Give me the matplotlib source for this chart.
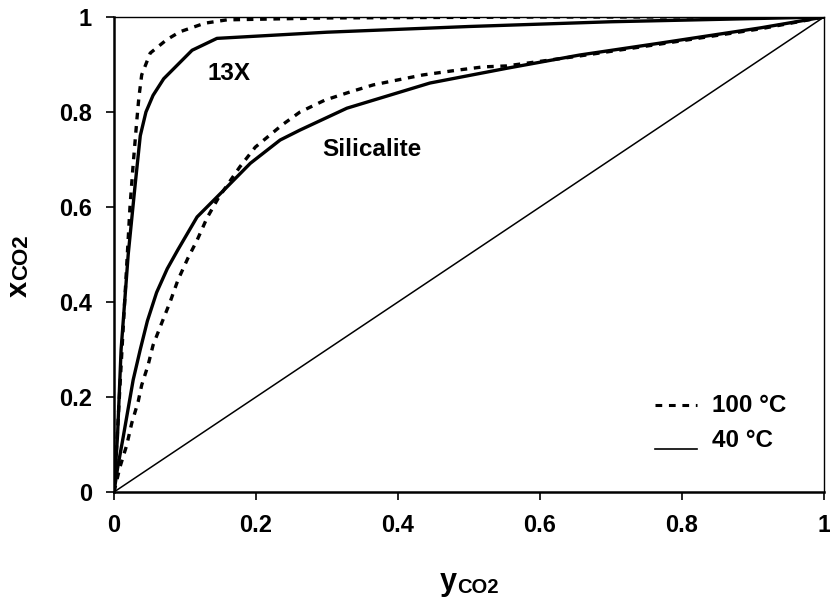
import matplotlib
matplotlib.use("Agg")
import matplotlib.pyplot as plt

plt.rcParams['font.family'] = ['Liberation Sans', 'DejaVu Sans']
plt.rcParams['font.weight'] = 'bold'

# 13X, 40 °C
x13_40_y = [0, 0.005, 0.01, 0.02, 0.03, 0.037, 0.045, 0.055, 0.07, 0.09, 0.11, 0.145, 0.3, 0.5, 0.7, 1.0]
x13_40_x = [0, 0.12, 0.30, 0.50, 0.65, 0.75, 0.80, 0.835, 0.87, 0.90, 0.93, 0.955, 0.968, 0.98, 0.99, 1.0]

# 13X, 100 °C
x13_100_y = [0, 0.005, 0.012, 0.0225, 0.027, 0.032, 0.035, 0.039, 0.051, 0.074, 0.093, 0.128, 0.159, 0.3, 0.6, 1.0]
x13_100_x = [0, 0.13, 0.32, 0.60, 0.69, 0.78, 0.83, 0.878, 0.924, 0.952, 0.969, 0.987, 0.994, 0.998, 1.0, 1.0]

# Silicalite, 40 °C
sil_40_y = [0, 0.005, 0.013, 0.027, 0.037, 0.047, 0.06, 0.075, 0.09, 0.117, 0.159, 0.192, 0.234, 0.262, 0.328,
            0.445, 0.553, 0.656, 0.769, 0.91, 1.0]
sil_40_x = [0, 0.05, 0.116, 0.236, 0.30, 0.36, 0.42, 0.47, 0.51, 0.579, 0.642, 0.692, 0.741, 0.762, 0.808,
            0.861, 0.892, 0.92, 0.945, 0.977, 1.0]

# Silicalite, 100 °C
sil_100_y = [0, 0.0085, 0.018, 0.025, 0.034, 0.039, 0.048, 0.055, 0.067, 0.079, 0.09, 0.104, 0.117, 0.131, 0.147,
             0.177, 0.199, 0.237, 0.262, 0.297, 0.332, 0.365, 0.398, 0.435, 0.483, 0.52, 0.553, 0.656, 0.769, 0.91, 1.0]
sil_100_x = [0, 0.053, 0.099, 0.145, 0.19, 0.225, 0.267, 0.309, 0.355, 0.40, 0.446, 0.492, 0.53, 0.577, 0.619,
             0.684, 0.726, 0.773, 0.80, 0.825, 0.842, 0.857, 0.867, 0.878, 0.888, 0.895, 0.897, 0.918, 0.943, 0.975, 1.0]

diag = [0, 1]
ticks = [0, 0.2, 0.4, 0.6, 0.8, 1]
tick_labels = ['0', '0.2', '0.4', '0.6', '0.8', '1']

fig = plt.figure(figsize=(8.30, 5.97), dpi=100)
ax = fig.add_axes([114/830, 105/597, 710/830, 475/597])

lw = 2.4
ax.plot(diag, diag, color='black', lw=1.1)
ax.plot(x13_40_y, x13_40_x, color='black', lw=lw, solid_joinstyle='round')
ax.plot(sil_40_y, sil_40_x, color='black', lw=lw, solid_joinstyle='round')
ax.plot(x13_100_y, x13_100_x, color='black', lw=lw, dashes=(2.0, 2.0))
ax.plot(sil_100_y, sil_100_x, color='black', lw=lw, dashes=(2.0, 2.0))

ax.set_xlim(0, 1)
ax.set_ylim(0, 1)
ax.set_xticks(ticks)
ax.set_xticklabels(tick_labels)
ax.set_yticks(ticks)
ax.set_yticklabels(tick_labels)
ax.tick_params(direction='out', length=6, width=1.2, labelsize=17, pad=10)
for lab in ax.get_xticklabels() + ax.get_yticklabels():
    lab.set_fontweight('bold')

ax.spines['left'].set_linewidth(1.8)
ax.spines['bottom'].set_linewidth(1.8)
ax.spines['top'].set_linewidth(1.0)
ax.spines['right'].set_linewidth(1.0)

# axis titles: large variable letter followed by a smaller CO2 suffix
fig.text(440/830, 7/597, 'y', fontsize=22, fontweight='bold', ha='left', va='baseline')
fig.text(457/830, 4/597, 'CO2', fontsize=14.5, fontweight='bold', ha='left', va='baseline')
fig.text(27/830, 300/597, 'x', fontsize=21, fontweight='bold', rotation=90,
         rotation_mode='anchor', ha='left', va='baseline')
fig.text(27/830, 317/597, 'CO2', fontsize=16, fontweight='bold', rotation=90,
         rotation_mode='anchor', ha='left', va='baseline')

# curve annotations
ax.text(0.131, 0.88, '13X', fontsize=17.5, fontweight='bold', ha='left', va='center')
ax.text(0.293, 0.72, 'Silicalite', fontsize=17.5, fontweight='bold', ha='left', va='center')

# key
ax.plot([0.762, 0.821], [0.183, 0.183], color='black', lw=2.2, dashes=(2.2, 2.2))
ax.plot([0.762, 0.821], [0.0905, 0.0905], color='black', lw=1.2)
ax.text(0.842, 0.183, '100 °C', fontsize=17.5, fontweight='bold', ha='left', va='center')
ax.text(0.842, 0.109, '40 °C', fontsize=17.5, fontweight='bold', ha='left', va='center')

fig.savefig('out.png', dpi=100)
